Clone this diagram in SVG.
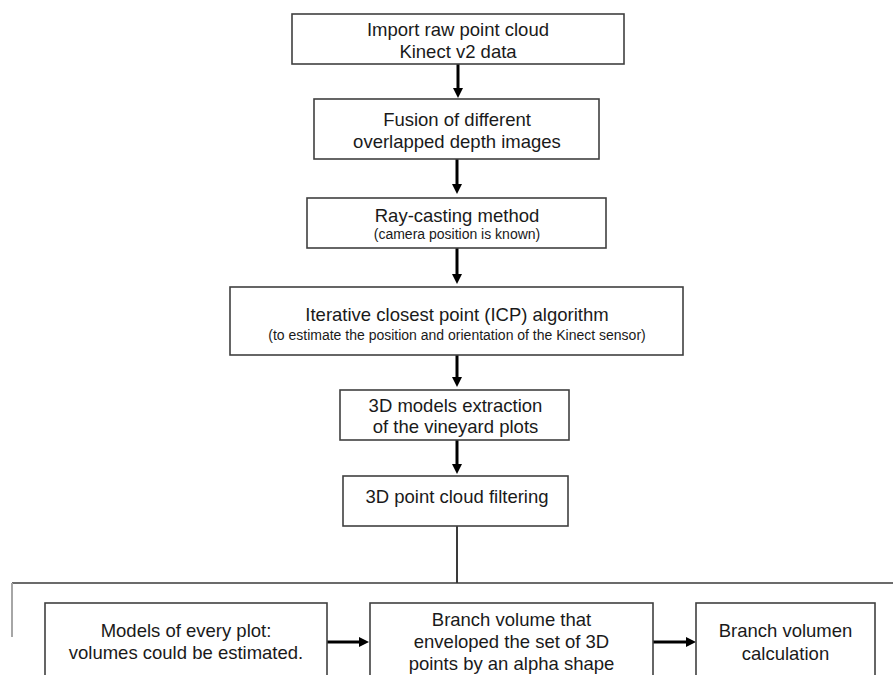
<svg xmlns="http://www.w3.org/2000/svg" width="893" height="675" viewBox="0 0 893 675">
<style>
.box{fill:#ffffff;stroke:#404040;stroke-width:1.6}
.t{font-family:"Liberation Sans",Arial,sans-serif;font-size:18.5px;fill:#1a1a1a;text-anchor:middle}
.s{font-family:"Liberation Sans",Arial,sans-serif;font-size:14px;fill:#1a1a1a;text-anchor:middle}
.arr{stroke:#000;stroke-width:3;fill:none;marker-end:url(#ah)}
.ln{stroke:#3a3a3a;stroke-width:1.6;fill:none}
</style>
<defs>
<marker id="ah" markerUnits="userSpaceOnUse" markerWidth="11" markerHeight="11" refX="0" refY="5" orient="auto">
<path d="M0,0 L10,5 L0,10 Z" fill="#000"/>
</marker>
</defs>
<rect width="893" height="675" fill="#ffffff"/>
<g id="connectors">
<line class="arr" x1="458" y1="64" x2="458" y2="88"/>
<line class="arr" x1="457" y1="159" x2="457" y2="184"/>
<line class="arr" x1="457" y1="248" x2="457" y2="274"/>
<line class="arr" x1="457" y1="355" x2="457" y2="377"/>
<line class="arr" x1="457" y1="440" x2="457" y2="464"/>
<line class="ln" x1="457" y1="526" x2="457" y2="583" style="stroke-width:2"/>
<line class="ln" x1="12" y1="583" x2="893" y2="583"/>
<line x1="12" y1="583" x2="12" y2="637" stroke="#a6a6a6" stroke-width="2"/>
<line class="arr" x1="327" y1="642" x2="359" y2="642"/>
<line class="arr" x1="653" y1="642" x2="686" y2="642"/>
</g>
<g id="n1">
<rect class="box" x="292" y="14" width="332" height="50"/>
<text class="t" x="458" y="36">Import raw point cloud</text>
<text class="t" x="458" y="58">Kinect v2 data</text>
</g>
<g id="n2">
<rect class="box" x="314" y="99" width="285" height="60"/>
<text class="t" x="457" y="126">Fusion of different</text>
<text class="t" x="457" y="148">overlapped depth images</text>
</g>
<g id="n3">
<rect class="box" x="307" y="198" width="299" height="50"/>
<text class="t" x="457" y="222">Ray-casting method</text>
<text class="s" x="457" y="239">(camera position is known)</text>
</g>
<g id="n4">
<rect class="box" x="230" y="287" width="453" height="68"/>
<text class="t" x="457" y="321">Iterative closest point (ICP) algorithm</text>
<text class="s" x="457" y="340">(to estimate the position and orientation of the Kinect sensor)</text>
</g>
<g id="n5">
<rect class="box" x="340" y="390" width="229" height="50"/>
<text class="t" x="455.5" y="412">3D models extraction</text>
<text class="t" x="455.5" y="433">of the vineyard plots</text>
</g>
<g id="n6">
<rect class="box" x="343" y="476" width="225" height="50"/>
<text class="t" x="457" y="503">3D point cloud filtering</text>
</g>
<g id="n7">
<rect class="box" x="45" y="603" width="282" height="90"/>
<text class="t" x="186" y="637">Models of every plot:</text>
<text class="t" x="186" y="659">volumes could be estimated.</text>
</g>
<g id="n8">
<rect class="box" x="370" y="603" width="283" height="90"/>
<text class="t" x="511.5" y="626">Branch volume that</text>
<text class="t" x="511.5" y="648">enveloped the set of 3D</text>
<text class="t" x="511.5" y="670">points by an alpha shape</text>
</g>
<g id="n9">
<rect class="box" x="696" y="603" width="179" height="90"/>
<text class="t" x="785.5" y="637">Branch volumen</text>
<text class="t" x="785.5" y="660">calculation</text>
</g>
</svg>
